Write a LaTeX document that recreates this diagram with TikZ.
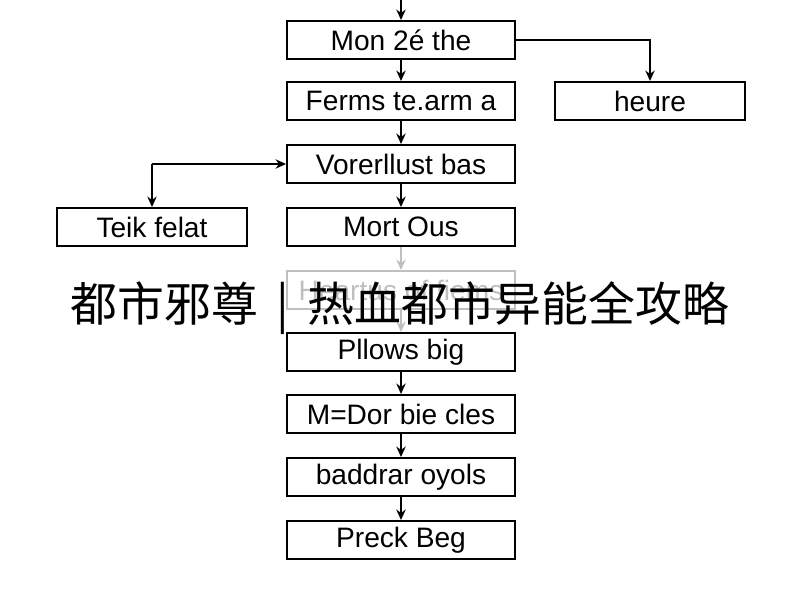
\documentclass[tikz,border=0pt]{standalone}
\usepackage{fontspec}
\setmainfont{Liberation Sans}
\newfontfamily\cjk{Noto Sans CJK SC}
\usetikzlibrary{arrows.meta, positioning}

\begin{document}
\begin{tikzpicture}[x=0.3mm,y=-0.3mm,>={Stealth[length=9pt,width=8pt]},line width=1.6pt,
  step node/.style={rectangle,draw,line width=1.6pt,minimum width=68.4mm,minimum height=11.4mm,inner sep=1pt,font=\fontsize{24}{26}\selectfont},
  side node/.style={step node,minimum width=57mm},
  faint node/.style={step node,draw=black!25,text=black!25}]

        \useasboundingbox (0,0) rectangle (800,600);

        \node[step node]  (1) at (401,40)  {Mon 2é the};
        \node[step node]  (2) at (401,101) {Ferms te.arm a};
        \node[step node]  (3) at (401,164) {Vorerllust bas};
        \node[step node]  (4) at (401,227) {Mort Ous};
        \node[faint node] (5) at (401,290) {Heartus of fiems};
        \node[step node]  (6) at (401,352) {Pllows big};
        \node[step node]  (7) at (401,414) {M=Dor bie cles};
        \node[step node]  (8) at (401,477) {baddrar oyols};
        \node[step node]  (9) at (401,540) {Preck Beg};
        \node[side node]  (h) at (650,101) {heure};
        \node[side node]  (t) at (152,227) {Teik felat};

        \coordinate (top) at (401,0);
        \coordinate (lc) at (152,164);

        \draw[->] (top) -- (1);
        \foreach \a/\b in {1/2,2/3,3/4,6/7,7/8,8/9}
          \draw[->] (\a) -- (\b);
        \draw[->,black!25] (4) -- (5);
        \draw[->,black!25] (5) -- (6);
        \draw[->] (1.east) -- ++(134,0) -- (h.north);
        \draw[->] (lc) -- (3.west);
        \draw[->] (lc) -- (t.north);

        \node[font=\cjk\fontsize{40}{44}\selectfont] (title) at (400,308) {都市邪尊 \,|\, 热血都市异能全攻略};
\end{tikzpicture}
\end{document}
